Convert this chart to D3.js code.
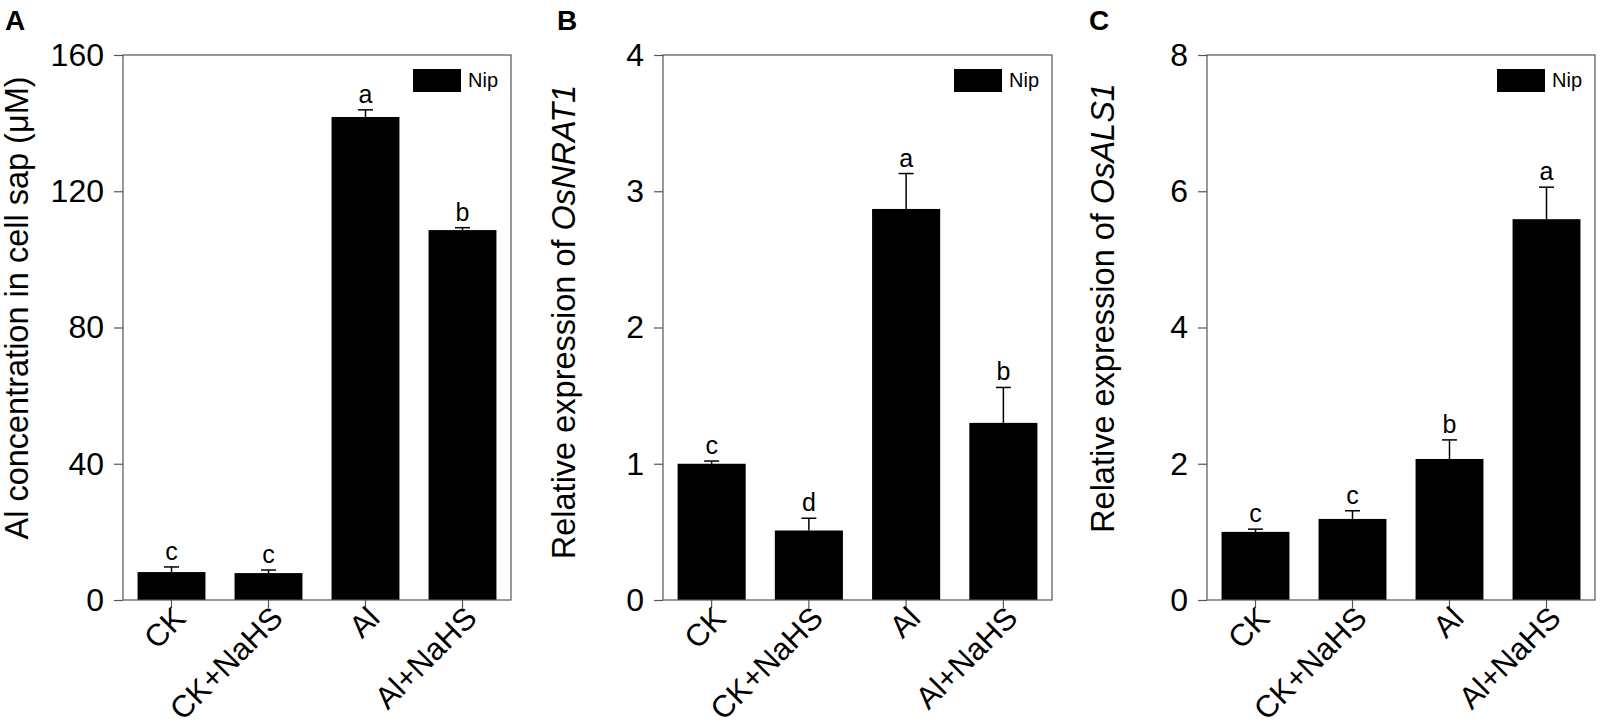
<!DOCTYPE html>
<html>
<head>
<meta charset="utf-8">
<script src="https://cdn.jsdelivr.net/npm/d3@7"></script>
<style>
  body { margin: 0; background: #fff; }
  svg { display: block; font-family: Arial, "Liberation Sans", sans-serif; }
</style>
</head>
<body>
<svg id="chart"></svg>
<script>
// treatments on the x axis
const categories = ["CK", "CK+NaHS", "Al", "Al+NaHS"];

// A: Al concentration in cell sap (µM)
const alConc = [8.2, 7.9, 141.8, 108.6];
const alConcErr = [1.5, 0.9, 2.1, 0.7];
const alConcLetters = ["c", "c", "a", "b"];
const alConcTicks = [0, 40, 80, 120, 160];

// B: relative expression of OsNRAT1
const nrat1 = [1.00, 0.51, 2.87, 1.30];
const nrat1Err = [0.02, 0.09, 0.26, 0.26];
const nrat1Letters = ["c", "d", "a", "b"];
const nrat1Ticks = [0, 1, 2, 3, 4];

// C: relative expression of OsALS1
const als1 = [1.00, 1.19, 2.07, 5.59];
const als1Err = [0.04, 0.12, 0.28, 0.47];
const als1Letters = ["c", "c", "b", "a"];
const als1Ticks = [0, 2, 4, 6, 8];

const seriesName = "Nip";

const width = 1600, height = 728;
const plotTop = 55, plotBottom = 600;

const svg = d3.select("#chart")
    .attr("width", width)
    .attr("height", height)
    .attr("viewBox", `0 0 ${width} ${height}`);

const panels = [
    { tag: "A", x0: 123, x1: 511, values: alConc, errs: alConcErr, letters: alConcLetters,
      ticks: alConcTicks, title: ["Al concentration in cell sap (\u03bcM)", ""], titleX: 28, titleY: 308, tagX: 5 },
    { tag: "B", x0: 663, x1: 1052, values: nrat1, errs: nrat1Err, letters: nrat1Letters,
      ticks: nrat1Ticks, title: ["Relative expression of ", "OsNRAT1"], titleX: 575, titleY: 322, tagX: 557 },
    { tag: "C", x0: 1207, x1: 1595, values: als1, errs: als1Err, letters: als1Letters,
      ticks: als1Ticks, title: ["Relative expression of ", "OsALS1"], titleX: 1114, titleY: 308, tagX: 1089 }
];

panels.forEach(function(p) {
    const x = d3.scaleBand()
        .domain(categories)
        .range([p.x0, p.x1])
        .paddingInner(0.3)
        .paddingOuter(0.15);

    const y = d3.scaleLinear()
        .domain([p.ticks[0], p.ticks[p.ticks.length - 1]])
        .range([plotBottom, plotTop]);

    const g = svg.append("g");
    const rows = categories.map((c, i) => ({ cat: c, v: p.values[i], e: p.errs[i], l: p.letters[i] }));

    // bars
    g.selectAll("rect.bar")
        .data(rows)
        .enter().append("rect")
        .attr("class", "bar")
        .attr("x", d => x(d.cat))
        .attr("y", d => y(d.v))
        .attr("width", x.bandwidth())
        .attr("height", d => y(0) - y(d.v))
        .attr("fill", "#000");

    // error bars (upper only)
    const cx = d => x(d.cat) + x.bandwidth() / 2;
    g.selectAll("line.err")
        .data(rows)
        .enter().append("line")
        .attr("x1", cx).attr("x2", cx)
        .attr("y1", d => y(d.v)).attr("y2", d => y(d.v + d.e))
        .attr("stroke", "#000").attr("stroke-width", 1.5);
    g.selectAll("line.cap")
        .data(rows)
        .enter().append("line")
        .attr("x1", d => cx(d) - 7.5).attr("x2", d => cx(d) + 7.5)
        .attr("y1", d => y(d.v + d.e)).attr("y2", d => y(d.v + d.e))
        .attr("stroke", "#000").attr("stroke-width", 1.5);

    // significance letters
    g.selectAll("text.sig")
        .data(rows)
        .enter().append("text")
        .attr("x", cx)
        .attr("y", d => y(d.v + d.e) - 7)
        .attr("text-anchor", "middle")
        .attr("font-size", 25)
        .text(d => d.l);

    // frame
    g.append("rect")
        .attr("x", p.x0).attr("y", plotTop)
        .attr("width", p.x1 - p.x0).attr("height", plotBottom - plotTop)
        .attr("fill", "none").attr("stroke", "#555").attr("stroke-width", 1.2);

    // y axis
    const yAxis = g.append("g")
        .attr("transform", `translate(${p.x0},0)`)
        .call(d3.axisLeft(y).tickValues(p.ticks).tickFormat(d3.format("d")).tickSize(9).tickPadding(10));
    yAxis.select(".domain").remove();
    yAxis.selectAll(".tick line").attr("stroke", "#555").attr("stroke-width", 1.2);
    yAxis.selectAll(".tick text")
        .attr("font-size", 32)
        .attr("font-family", "Arial, 'Liberation Sans', sans-serif")
        .attr("fill", "#000");

    // x axis
    const xAxis = g.append("g")
        .attr("transform", `translate(0,${plotBottom})`)
        .call(d3.axisBottom(x).tickSize(8).tickFormat(""));
    xAxis.select(".domain").remove();
    xAxis.selectAll(".tick line").attr("stroke", "#555").attr("stroke-width", 1.2);

    g.selectAll("text.xlab")
        .data(categories)
        .enter().append("text")
        .attr("transform", d => `translate(${x(d) + x.bandwidth() / 2 + 16},${plotBottom + 20}) rotate(-45)`)
        .attr("text-anchor", "end")
        .attr("font-size", 31)
        .text(d => d);

    // legend
    g.append("rect")
        .attr("x", p.x1 - 98).attr("y", 69)
        .attr("width", 48).attr("height", 23)
        .attr("fill", "#000");
    g.append("text")
        .attr("x", p.x1 - 43).attr("y", 87)
        .attr("font-size", 20)
        .text(seriesName);

    // y title
    const t = g.append("text")
        .attr("transform", `translate(${p.titleX},${p.titleY}) rotate(-90)`)
        .attr("text-anchor", "middle")
        .attr("font-size", 32.5);
    t.append("tspan").text(p.title[0]);
    if (p.title[1]) t.append("tspan").attr("font-style", "italic").text(p.title[1]);

    // panel tag
    g.append("text")
        .attr("x", p.tagX).attr("y", 30)
        .attr("font-size", 28)
        .attr("font-weight", "bold")
        .text(p.tag);
});
</script>
</body>
</html>
